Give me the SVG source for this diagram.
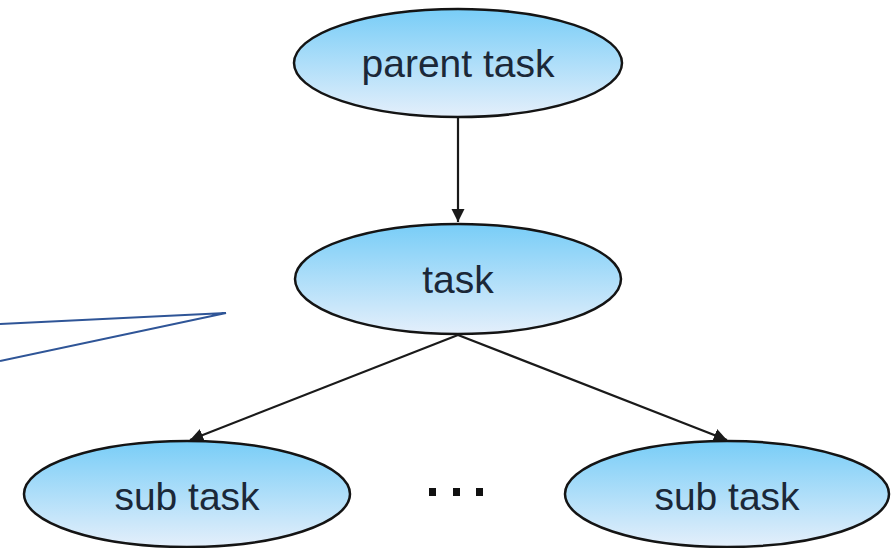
<svg xmlns="http://www.w3.org/2000/svg" width="894" height="548" viewBox="0 0 894 548">
  <style>
    .node ellipse { fill: url(#nodeFill); stroke: #141414; stroke-width: 2.5; }
    .node text { font-family: "Liberation Sans", Arial, sans-serif; font-size: 39px; fill: #1b2838; text-anchor: middle; }
    .edge { stroke: #1a1a1a; stroke-width: 2.2; fill: none; marker-end: url(#arrow); }
    .pointer { stroke: #2f5597; stroke-width: 2; fill: none; stroke-linejoin: miter; }
  </style>
  <defs>
    <linearGradient id="nodeFill" x1="0" y1="0" x2="0" y2="1">
      <stop offset="0" stop-color="#78cdf7"/>
      <stop offset="1" stop-color="#e4effb"/>
    </linearGradient>
    <marker id="arrow" viewBox="0 0 10 10" refX="10" refY="5" markerWidth="6" markerHeight="6" orient="auto" markerUnits="strokeWidth">
      <path d="M0,0 L10,5 L0,10 z" fill="#1a1a1a"/>
    </marker>
  </defs>

  <rect width="894" height="548" fill="#ffffff"/>

  <!-- connectors -->
  <g id="connectors">
    <line class="edge" x1="458" y1="118" x2="458" y2="222"/>
    <line class="edge" x1="458" y1="335" x2="190" y2="440"/>
    <line class="edge" x1="458" y1="335" x2="727" y2="440"/>
    <polyline class="pointer" points="0,324 226,313 0,361"/>
  </g>

  <!-- nodes -->
  <g id="parent-task" class="node">
    <ellipse cx="458" cy="63" rx="164" ry="54"/>
    <text x="458" y="77">parent task</text>
  </g>
  <g id="task" class="node">
    <ellipse cx="458" cy="279" rx="163" ry="55"/>
    <text x="458" y="293">task</text>
  </g>
  <g id="sub-task-left" class="node">
    <ellipse cx="187" cy="494" rx="163" ry="53"/>
    <text x="187" y="510">sub task</text>
  </g>
  <g id="sub-task-right" class="node">
    <ellipse cx="727" cy="494" rx="162" ry="53"/>
    <text x="727" y="510">sub task</text>
  </g>

  <!-- ellipsis between the sub tasks -->
  <g id="ellipsis" fill="#111111">
    <rect x="429" y="488" width="7" height="8"/>
    <rect x="453" y="488" width="7" height="8"/>
    <rect x="476" y="488" width="7" height="8"/>
  </g>
</svg>
